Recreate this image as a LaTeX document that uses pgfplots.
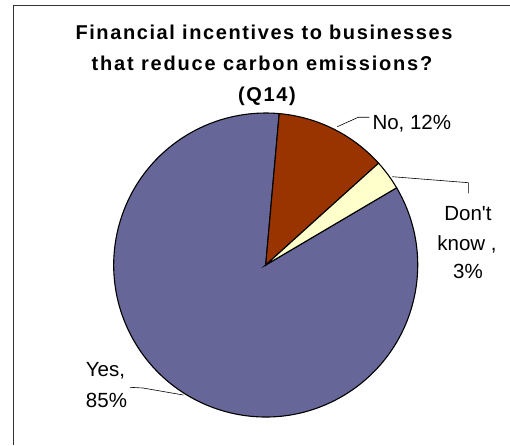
\documentclass[border=0pt]{standalone}
\usepackage{pgfplots}
\pgfplotsset{compat=1.18}
\usepackage{fontspec}
\setmainfont{Liberation Sans}
\definecolor{yesCol}{HTML}{666699}
\definecolor{noCol}{HTML}{993300}
\definecolor{dkCol}{HTML}{FFFFCC}
% shares (percent) of the pie, clockwise from the top
\def\vNo{11.9}
\def\vDK{3.2}
\def\vYes{84.9}
\def\startAng{84.9}
\pgfmathsetmacro{\aA}{\startAng}
\pgfmathsetmacro{\aB}{\aA-3.6*\vNo}
\pgfmathsetmacro{\aC}{\aB-3.6*\vDK}
\pgfmathsetmacro{\aD}{\aC-3.6*\vYes}
\begin{document}%
\begin{tikzpicture}
\begin{axis}[
  at={(0,0)}, anchor=south west,
  width=510pt, height=445pt, scale only axis,
  xmin=0, xmax=510, ymin=0, ymax=445,
  hide axis, clip=false]
% border
\draw[line width=1.5pt, black!80] (axis cs:13.5,0) -- (axis cs:13.5,439.5) -- (axis cs:510,439.5);
% wedges
\filldraw[fill=yesCol, draw=black, line width=1.1pt] (axis cs:265.7,180) -- ++(\aC:152pt) arc[start angle=\aC, end angle=\aD, radius=152pt] -- cycle;
\filldraw[fill=noCol, draw=black, line width=1.1pt] (axis cs:265.7,180) -- ++(\aA:152pt) arc[start angle=\aA, end angle=\aB, radius=152pt] -- cycle;
\filldraw[fill=dkCol, draw=black, line width=1.1pt] (axis cs:265.7,180) -- ++(\aB:152pt) arc[start angle=\aB, end angle=\aC, radius=152pt] -- cycle;
% title
\node[anchor=base, font=\fontsize{20}{23}\selectfont\bfseries\addfontfeature{LetterSpace=8}] at (axis cs:264,405) {Financial incentives to businesses};
\node[anchor=base, font=\fontsize{20}{23}\selectfont\bfseries\addfontfeature{LetterSpace=9}] at (axis cs:262,374) {that reduce carbon emissions?};
\node[anchor=base, font=\fontsize{20}{23}\selectfont\bfseries\addfontfeature{LetterSpace=8}] at (axis cs:267,343) {(Q14)};
% labels and leaders
\draw[black, line width=0.6pt] (axis cs:337.3,318.3) -- (axis cs:358.3,327.7) -- (axis cs:369.3,327.7);
\node[anchor=base west, inner sep=0pt, font=\fontsize{20.5}{24}\selectfont] at (axis cs:372.3,315.7) {No, 12\%};
\draw[black, line width=0.6pt] (axis cs:392.3,268.3) -- (axis cs:468.3,262.3) -- (axis cs:468.3,251.7);
\node[anchor=base, inner sep=0pt, font=\fontsize{20.5}{24}\selectfont] at (axis cs:468,225) {Don\textquotesingle t};
\node[anchor=base, inner sep=0pt, font=\fontsize{20.5}{24}\selectfont] at (axis cs:467,195) {know ,};
\node[anchor=base, inner sep=0pt, font=\fontsize{20.5}{24}\selectfont] at (axis cs:468,166.7) {3\%};
\draw[black, line width=0.6pt] (axis cs:130,57.7) -- (axis cs:143,57) -- (axis cs:183.3,50);
\node[anchor=base, inner sep=0pt, font=\fontsize{20.5}{24}\selectfont] at (axis cs:105.5,68.3) {Yes,};
\node[anchor=base, inner sep=0pt, font=\fontsize{20.5}{24}\selectfont] at (axis cs:106.5,37.7) {85\%};
\end{axis}
\pgfresetboundingbox
\useasboundingbox (0,0) rectangle (510pt,445pt);
\end{tikzpicture}%
\end{document}
